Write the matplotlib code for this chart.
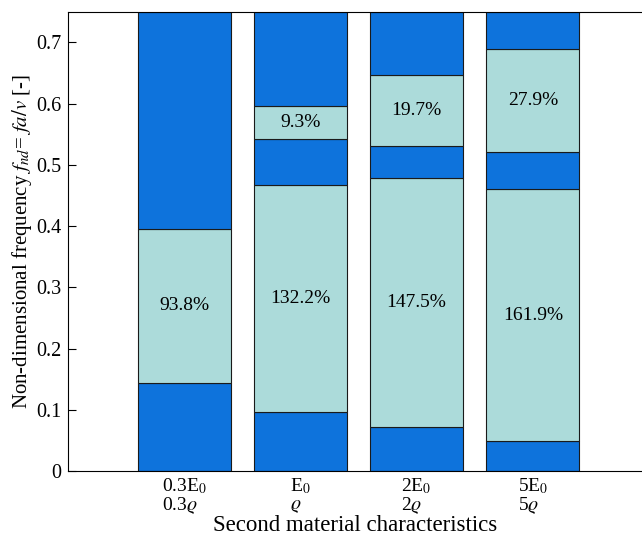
import matplotlib
matplotlib.use("Agg")
import matplotlib.pyplot as plt

# material cases
categories = ["0.3E$_0$\n0.3$\\varrho$", "E$_0$\n$\\varrho$", "2E$_0$\n2$\\varrho$", "5E$_0$\n5$\\varrho$"]
# segment boundaries (non-dimensional frequency), alternating dark / light bands from 0
bounds = [
    [0.0, 0.143, 0.396, 0.75],
    [0.0, 0.0956, 0.467, 0.543, 0.596, 0.75],
    [0.0, 0.0721, 0.478, 0.531, 0.646, 0.75],
    [0.0, 0.0492, 0.460, 0.521, 0.689, 0.75],
]
# relative width labels for the light bands
band_labels = [
    ["93.8%"],
    ["132.2%", "9.3%"],
    ["147.5%", "19.7%"],
    ["161.9%", "27.9%"],
]

DARK = "#0e73dc"
LIGHT = "#acdbda"

plt.rcParams["font.family"] = ["Liberation Serif", "DejaVu Serif"]
plt.rcParams["mathtext.fontset"] = "stix"

fig = plt.figure(figsize=(6.42, 5.37), dpi=100)
ax = fig.add_axes([0.106, 0.123, 0.894, 0.855])

for i, b in enumerate(bounds):
    x = i + 1
    light_idx = 0
    for k in range(len(b) - 1):
        lo, hi = b[k], b[k + 1]
        color = DARK if k % 2 == 0 else LIGHT
        ax.bar(x, hi - lo, bottom=lo, width=0.8, color=color,
               edgecolor="#1a1a1a", linewidth=0.8)
        if k % 2 == 1:
            ax.text(x, (lo + hi) / 2, band_labels[i][light_idx],
                    ha="center", va="center", fontsize=14)
            light_idx += 1

ax.set_xlim(0, 4.94)
ax.set_ylim(0, 0.75)
ax.set_xticks(range(1, len(categories) + 1))
ax.set_xticklabels(categories, fontsize=14, linespacing=0.95, multialignment="left")
ax.set_yticks([0, 0.1, 0.2, 0.3, 0.4, 0.5, 0.6, 0.7])
ax.set_yticklabels(["0", "0.1", "0.2", "0.3", "0.4", "0.5", "0.6", "0.7"], fontsize=14.5)
ax.tick_params(axis="x", length=0, pad=4)
ax.tick_params(axis="y", direction="in", length=6, width=0.8, pad=5)
ax.spines["right"].set_visible(False)
ax.set_xlabel("Second material characteristics", fontsize=16.5, labelpad=-1)
ax.set_ylabel("Non-dimensional frequency $f_{nd}$= $fa/v$ [-]", fontsize=15, labelpad=1)

fig.savefig("out.png", dpi=100)
